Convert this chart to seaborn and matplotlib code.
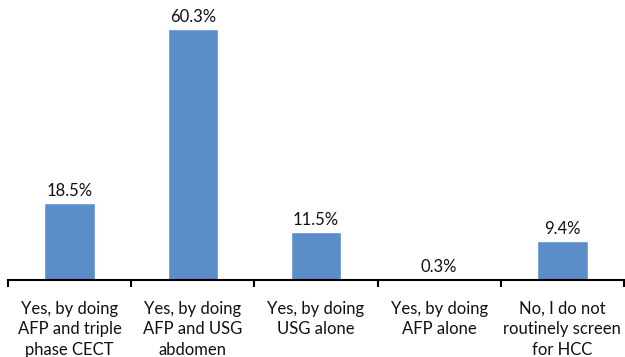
import matplotlib
matplotlib.use("Agg")
import matplotlib.pyplot as plt
import seaborn as sns
import pandas as pd
import numpy as np

categories = [
    "Yes, by doing\nAFP and triple\nphase CECT",
    "Yes, by doing\nAFP and USG\nabdomen",
    "Yes, by doing\nUSG alone",
    "Yes, by doing\nAFP alone",
    "No, I do not\nroutinely screen\nfor HCC",
]
values = [18.5, 60.3, 11.5, 0.3, 9.4]
labels = ["18.5%", "60.3%", "11.5%", "0.3%", "9.4%"]

sns.set_theme(style="white")
plt.rcParams["font.family"] = ["Lato", "DejaVu Sans"]

df = pd.DataFrame({"cat": categories, "val": values})

fig = plt.figure(figsize=(6.25, 3.57), dpi=100)
ax = fig.add_axes([8/625, 1 - 280/357, (624 - 8)/625, 270/357])
sns.barplot(data=df, x="cat", y="val", color="#5B8DC9", width=0.41,
            saturation=1, ax=ax)

ax.set_ylim(0, 270/4.16)
ax.set_xlim(-0.5, len(categories) - 0.5)
for i, (v, t) in enumerate(zip(values, labels)):
    ax.text(i, v + 1.0, t, ha="center", va="bottom", fontsize=12, color="#111111")

ax.set_xlabel("")
ax.set_ylabel("")
ax.set_yticks([])
for s in ["top", "right", "left"]:
    ax.spines[s].set_visible(False)
ax.spines["bottom"].set_color("#000000")
ax.spines["bottom"].set_linewidth(1.5)

ax.set_xticks(range(len(categories)))
ax.set_xticklabels(categories, fontsize=12, color="#111111", linespacing=1.35)
ax.tick_params(axis="x", which="major", length=0, pad=15)
ax.set_xticks(np.arange(-0.5, len(categories)), minor=True)
ax.tick_params(axis="x", which="minor", length=5, width=1.5, color="#000000",
               direction="out", bottom=True)

fig.savefig("out.png", dpi=100)
